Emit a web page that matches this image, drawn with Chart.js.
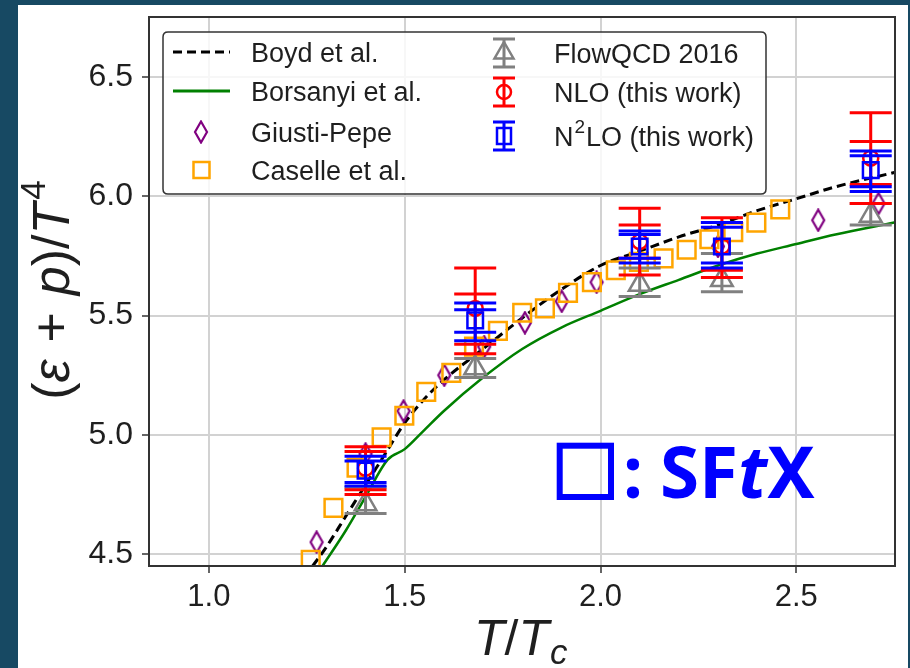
<!DOCTYPE html>
<html><head><meta charset="utf-8">
<script src="https://cdn.jsdelivr.net/npm/chart.js@4.4.0/dist/chart.umd.min.js"></script>
<style>
html,body{margin:0;padding:0;background:#174963;width:910px;height:668px;overflow:hidden}
#panel{position:absolute;left:18px;top:5px;width:890px;height:663px;background:#fff}
#wrap{position:absolute;left:0;top:0;width:910px;height:668px}
</style></head><body>
<div id="panel"></div>
<div id="wrap"><canvas id="c" width="910" height="668"></canvas></div>
<script>
// ---------------- data ----------------
const xTickVals = [1.0, 1.5, 2.0, 2.5];
const yTickVals = [4.5, 5.0, 5.5, 6.0, 6.5];

const boydT = [1.265,1.30,1.35,1.40,1.45,1.50,1.55,1.60,1.70,1.80,1.90,2.00,2.10,2.20,2.30,2.40,2.50,2.60,2.75];
const boydY = [4.45,4.53,4.66,4.79,4.92,5.05,5.15,5.23,5.36,5.49,5.61,5.71,5.77,5.83,5.88,5.94,5.99,6.04,6.10];

const borsT = [1.29,1.35,1.40,1.456,1.50,1.55,1.60,1.70,1.80,1.90,2.00,2.10,2.20,2.30,2.40,2.50,2.60,2.75];
const borsY = [4.45,4.60,4.74,4.895,4.94,5.02,5.10,5.24,5.36,5.45,5.52,5.59,5.65,5.71,5.76,5.80,5.84,5.89];

const giustiT = [1.275,1.40,1.497,1.601,1.703,1.807,1.901,1.99,2.30,2.556,2.71];
const giustiY = [4.55,4.92,5.10,5.25,5.37,5.47,5.56,5.64,5.79,5.90,5.97];

const caselleT = [1.260,1.318,1.377,1.441,1.499,1.555,1.619,1.677,1.738,1.800,1.858,1.917,1.978,2.039,2.098,2.161,2.220,2.278,2.339,2.398,2.459];
const caselleY = [4.476,4.694,4.862,4.99,5.08,5.18,5.26,5.37,5.436,5.512,5.53,5.595,5.64,5.69,5.725,5.74,5.776,5.82,5.85,5.89,5.945];

const clusterT = [1.40, 1.68, 2.10, 2.31, 2.69];

const flowY  = [4.71, 5.28, 5.63, 5.65, 5.92];
const flowLo = [4.67, 5.24, 5.58, 5.60, 5.88];
const flowHi = [4.78, 5.32, 5.70, 5.76, 5.97];

const nloY   = [4.86, 5.53, 5.81, 5.79, 6.16];
const nloLo  = [4.75, 5.34, 5.67, 5.66, 5.97];
const nloHi  = [4.95, 5.70, 5.95, 5.91, 6.35];
const nloLo2 = [4.77, 5.38, 5.74, 5.69, 6.05];
const nloHi2 = [4.93, 5.59, 5.88, 5.89, 6.23];

const n2loY   = [4.85, 5.48, 5.79, 5.79, 6.11];
const n2loLo  = [4.785, 5.395, 5.72, 5.70, 6.02];
const n2loHi  = [4.91, 5.553, 5.855, 5.89, 6.19];
const n2loLo2 = [4.80, 5.43, 5.74, 5.72, 6.04];
const n2loHi2 = [4.89, 5.525, 5.84, 5.87, 6.17];

// ---------------- helpers ----------------
const pts = (xs, ys) => xs.map((x, i) => ({x: x, y: ys[i]}));
const errPts = (ys, lo, hi, lo2, hi2) => clusterT.map((x, i) => ({
  x: x, y: ys[i], lo: lo[i], hi: hi[i],
  lo2: lo2 ? lo2[i] : null, hi2: hi2 ? hi2[i] : null
}));

const PURPLE = '#800080', ORANGE = '#ffa500', GREY = '#808080', RED = '#ff0000', BLUE = '#0000ff', GREEN = '#008000';

function thinDiamond() {
  const c = document.createElement('canvas');
  c.width = 16; c.height = 24;
  const g = c.getContext('2d');
  g.strokeStyle = PURPLE; g.lineWidth = 2.2;
  g.beginPath();
  g.moveTo(8, 1.5); g.lineTo(14, 12); g.lineTo(8, 22.5); g.lineTo(2, 12); g.closePath();
  g.stroke();
  return c;
}
const diamondImg = thinDiamond();

const FONT = "'Liberation Sans', Arial, sans-serif";
const TXT = '#1f1f1f';

// ---------------- plugins ----------------
const errorBars = {
  id: 'errorBars',
  beforeDatasetDraw(chart, args) {
    const ds = chart.data.datasets[args.index];
    if (!ds.errColor) return;
    const {ctx, scales: {x, y}, chartArea} = chart;
    ctx.save();
    ctx.beginPath();
    ctx.rect(chartArea.left, chartArea.top, chartArea.right - chartArea.left, chartArea.bottom - chartArea.top);
    ctx.clip();
    ctx.strokeStyle = ds.errColor;
    ctx.lineWidth = 3;
    const half = 21;
    ds.data.forEach(p => {
      const px = x.getPixelForValue(p.x);
      const yl = y.getPixelForValue(p.lo), yh = y.getPixelForValue(p.hi);
      ctx.beginPath();
      ctx.moveTo(px, yl); ctx.lineTo(px, yh);
      [p.lo, p.hi, p.lo2, p.hi2].forEach(v => {
        if (v === null || v === undefined) return;
        const py = y.getPixelForValue(v);
        ctx.moveTo(px - half, py); ctx.lineTo(px + half, py);
      });
      ctx.stroke();
    });
    ctx.restore();
  }
};

const decorations = {
  id: 'decorations',
  afterDatasetsDraw(chart) {
    const {ctx, chartArea: a} = chart;
    ctx.save();
    ctx.strokeStyle = '#333';
    ctx.lineWidth = 2;
    ctx.strokeRect(a.left, a.top, a.right - a.left, a.bottom - a.top);
    ctx.restore();

    drawLegend(ctx);
    drawTitles(ctx);
    drawSFtX(ctx);
  }
};

function roundRect(ctx, x, y, w, h, r) {
  ctx.beginPath();
  ctx.moveTo(x + r, y);
  ctx.lineTo(x + w - r, y); ctx.quadraticCurveTo(x + w, y, x + w, y + r);
  ctx.lineTo(x + w, y + h - r); ctx.quadraticCurveTo(x + w, y + h, x + w - r, y + h);
  ctx.lineTo(x + r, y + h); ctx.quadraticCurveTo(x, y + h, x, y + h - r);
  ctx.lineTo(x, y + r); ctx.quadraticCurveTo(x, y, x + r, y);
  ctx.closePath();
}

function legendErrHandle(ctx, cx, cy, color, marker) {
  ctx.save();
  ctx.strokeStyle = color; ctx.lineWidth = 3;
  ctx.beginPath();
  ctx.moveTo(cx, cy - 14); ctx.lineTo(cx, cy + 14);
  ctx.moveTo(cx - 11, cy - 14); ctx.lineTo(cx + 11, cy - 14);
  ctx.moveTo(cx - 11, cy + 14); ctx.lineTo(cx + 11, cy + 14);
  ctx.stroke();
  ctx.lineWidth = 2.5;
  ctx.beginPath();
  if (marker === 'tri') {
    const r = 11;
    ctx.moveTo(cx, cy - r);
    ctx.lineTo(cx + r * 0.866, cy + r * 0.5);
    ctx.lineTo(cx - r * 0.866, cy + r * 0.5);
    ctx.closePath();
  } else if (marker === 'circle') {
    ctx.arc(cx, cy, 7, 0, Math.PI * 2);
  } else {
    ctx.rect(cx - 7, cy - 8, 14, 16);
  }
  ctx.stroke();
  ctx.restore();
}

function drawLegend(ctx) {
  ctx.save();
  roundRect(ctx, 163, 32, 603, 162, 5);
  ctx.fillStyle = 'rgba(255,255,255,0.82)';
  ctx.fill();
  ctx.strokeStyle = '#333'; ctx.lineWidth = 1.5;
  ctx.stroke();

  ctx.lineWidth = 3;
  ctx.strokeStyle = '#000'; ctx.setLineDash([9, 5]);
  ctx.beginPath(); ctx.moveTo(173, 52); ctx.lineTo(230, 52); ctx.stroke();
  ctx.setLineDash([]);
  ctx.strokeStyle = GREEN;
  ctx.beginPath(); ctx.moveTo(173, 91); ctx.lineTo(230, 91); ctx.stroke();
  ctx.drawImage(diamondImg, 201 - 8, 132 - 12);
  ctx.strokeStyle = ORANGE; ctx.lineWidth = 2.5;
  ctx.strokeRect(193.5, 162, 16, 16);

  legendErrHandle(ctx, 504, 53, GREY, 'tri');
  legendErrHandle(ctx, 504, 92, RED, 'circle');
  legendErrHandle(ctx, 504, 136, BLUE, 'rect');

  ctx.fillStyle = TXT;
  ctx.font = '27px ' + FONT;
  ctx.textBaseline = 'alphabetic';
  ctx.textAlign = 'left';
  ctx.fillText('Boyd et al.', 251, 62);
  ctx.fillText('Borsanyi et al.', 251, 101);
  ctx.fillText('Giusti-Pepe', 251, 142);
  ctx.fillText('Caselle et al.', 251, 180);
  ctx.fillText('FlowQCD 2016', 554, 63);
  ctx.fillText('NLO (this work)', 554, 102);
  let x = 554;
  ctx.fillText('N', x, 146); x += ctx.measureText('N').width;
  ctx.font = '19px ' + FONT;
  ctx.fillText('2', x + 1, 133); x += ctx.measureText('2').width + 2;
  ctx.font = '27px ' + FONT;
  ctx.fillText('LO (this work)', x, 146);
  ctx.restore();
}

function drawSegs(ctx, segs, startX, baseY) {
  let x = startX;
  segs.forEach(s => {
    if (s.gap) { x += s.gap; return; }
    ctx.font = s.font;
    ctx.fillText(s.t, x, baseY - (s.dy || 0));
    x += ctx.measureText(s.t).width;
  });
  return x;
}
function segsWidth(ctx, segs) {
  let w = 0;
  segs.forEach(s => {
    if (s.gap) { w += s.gap; return; }
    ctx.font = s.font; w += ctx.measureText(s.t).width;
  });
  return w;
}

function drawTitles(ctx) {
  ctx.save();
  ctx.fillStyle = TXT;
  ctx.textBaseline = 'alphabetic';
  ctx.textAlign = 'left';
  const up = '52px ' + FONT, it = 'italic 52px ' + FONT, sup = '35px ' + FONT;
  const ySegs = [
    {t: '(', font: up}, {t: 'ε', font: it}, {gap: 17}, {t: '+', font: up}, {gap: 17},
    {t: 'p', font: it}, {t: ')/', font: up}, {t: 'T', font: it}, {gap: 3}, {t: '4', font: sup, dy: 24}
  ];
  const w = segsWidth(ctx, ySegs);
  ctx.translate(69, 290);
  ctx.rotate(-Math.PI / 2);
  drawSegs(ctx, ySegs, -w / 2, 0);
  ctx.restore();

  ctx.save();
  ctx.fillStyle = TXT;
  ctx.textBaseline = 'alphabetic';
  const xit = 'italic 50px ' + FONT, xup = '50px ' + FONT, xsub = 'italic 35px ' + FONT;
  const xSegs = [{t: 'T', font: xit}, {t: '/', font: xup}, {t: 'T', font: xit}, {gap: 1}, {t: 'c', font: xsub, dy: -9}];
  drawSegs(ctx, xSegs, 474, 655);
  ctx.restore();
}

function drawSFtX(ctx) {
  ctx.save();
  ctx.strokeStyle = BLUE; ctx.fillStyle = BLUE;
  ctx.lineWidth = 6;
  ctx.strokeRect(559.7, 445.7, 51.3, 51.3);
  ctx.textBaseline = 'alphabetic';
  const b = "bold 71px 'Noto Sans', 'DejaVu Sans', sans-serif";
  const bi = "italic bold 71px 'Noto Sans', 'DejaVu Sans', sans-serif";
  drawSegs(ctx, [{t: ':', font: b}], 623, 498);
  drawSegs(ctx, [{t: 'SF', font: b}, {t: 't', font: bi}, {t: 'X', font: b}], 660, 498);
  ctx.restore();
}

// ---------------- chart ----------------
const gridCfg = {color: '#d2d2d2', lineWidth: 2, drawTicks: true, tickLength: 7, tickColor: '#333', tickWidth: 1.5};

new Chart(document.getElementById('c'), {
  type: 'scatter',
  data: {
    datasets: [
      {label: 'N2LO (this work)', data: errPts(n2loY, n2loLo, n2loHi, n2loLo2, n2loHi2), errColor: BLUE,
       pointStyle: 'rect', pointRadius: 11, pointHoverRadius: 11, borderColor: BLUE, borderWidth: 2.5, backgroundColor: 'rgba(0,0,0,0)', order: 0},
      {label: 'NLO (this work)', data: errPts(nloY, nloLo, nloHi, nloLo2, nloHi2), errColor: RED,
       pointStyle: 'circle', pointRadius: 7.5, pointHoverRadius: 7.5, borderColor: RED, borderWidth: 2.5, backgroundColor: 'rgba(0,0,0,0)', order: 1},
      {label: 'FlowQCD 2016', data: errPts(flowY, flowLo, flowHi), errColor: GREY,
       pointStyle: 'triangle', pointRadius: 12.5, pointHoverRadius: 12.5, borderColor: GREY, borderWidth: 2.5, backgroundColor: 'rgba(0,0,0,0)', order: 2},
      {label: 'Caselle et al.', data: pts(caselleT, caselleY),
       pointStyle: 'rect', pointRadius: 12.5, pointHoverRadius: 12.5, borderColor: ORANGE, borderWidth: 2.5, backgroundColor: 'rgba(0,0,0,0)', order: 3},
      {label: 'Giusti-Pepe', data: pts(giustiT, giustiY),
       pointStyle: diamondImg, pointRadius: 10, borderColor: PURPLE, backgroundColor: 'rgba(0,0,0,0)', order: 4},
      {label: 'Borsanyi et al.', data: pts(borsT, borsY), showLine: true, cubicInterpolationMode: 'monotone',
       borderColor: GREEN, borderWidth: 2.5, pointRadius: 0, pointHoverRadius: 0, order: 5},
      {label: 'Boyd et al.', data: pts(boydT, boydY), showLine: true, cubicInterpolationMode: 'monotone',
       borderColor: '#000', borderWidth: 3, borderDash: [9, 5], pointRadius: 0, pointHoverRadius: 0, order: 6}
    ]
  },
  options: {
    responsive: false,
    animation: false,
    devicePixelRatio: 1,
    layout: {padding: {top: 17, right: 13, left: 0, bottom: 0}},
    plugins: {legend: {display: false}, tooltip: {enabled: false}},
    events: [],
    scales: {
      x: {
        type: 'linear', min: 0.847, max: 2.752,
        afterBuildTicks: s => { s.ticks = xTickVals.map(v => ({value: v})); },
        afterFit: s => { s.height = 102; s.paddingLeft = 0; s.paddingRight = 0; },
        grid: gridCfg,
        border: {display: false},
        ticks: {font: {family: FONT, size: 31}, color: TXT, padding: 6, maxRotation: 0,
                callback: v => Number(v).toFixed(1)}
      },
      y: {
        type: 'linear', min: 4.45, max: 6.752,
        afterBuildTicks: s => { s.ticks = yTickVals.map(v => ({value: v})); },
        afterFit: s => { s.width = 149; s.paddingTop = 0; s.paddingBottom = 0; },
        grid: gridCfg,
        border: {display: false},
        ticks: {font: {family: FONT, size: 32}, color: TXT, padding: 9,
                callback: v => Number(v).toFixed(1)}
      }
    }
  },
  plugins: [errorBars, decorations]
});
</script>
</body></html>
